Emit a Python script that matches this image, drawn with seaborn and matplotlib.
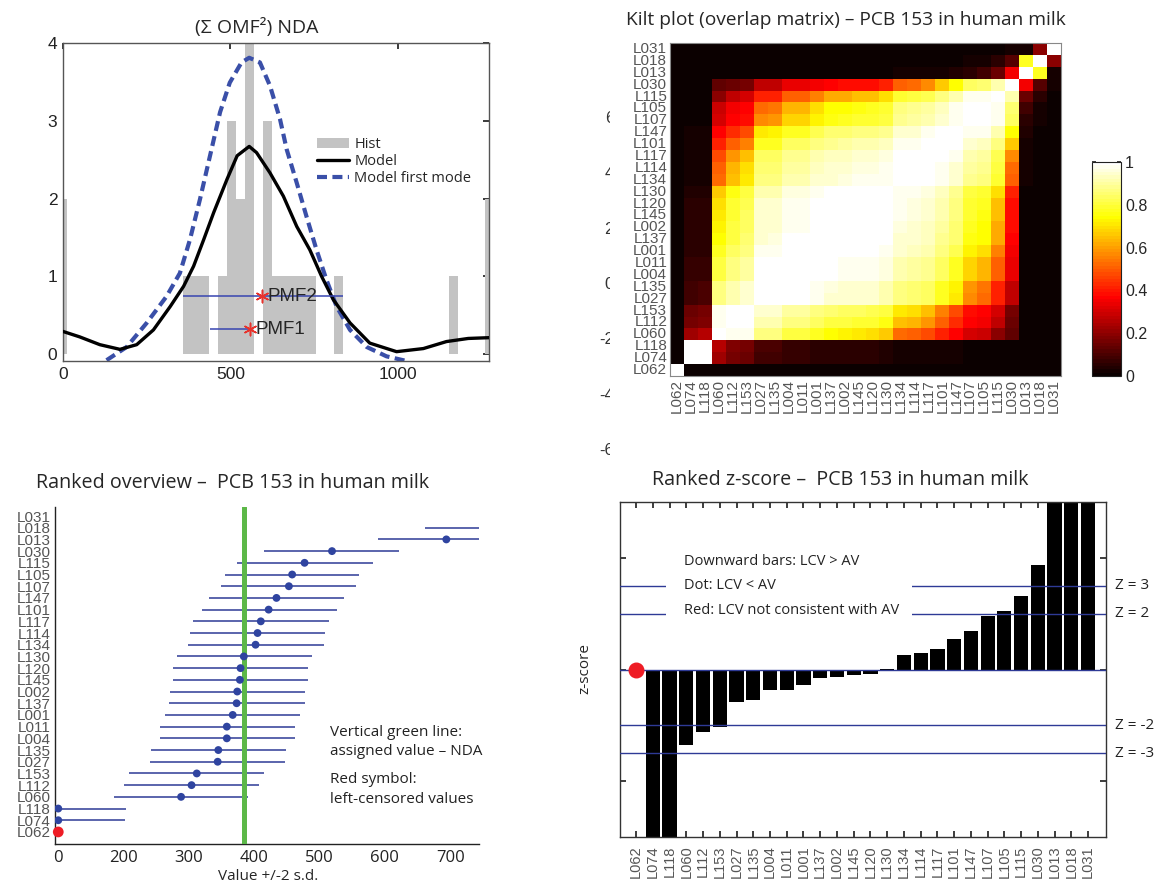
import numpy as np
import pandas as pd
import matplotlib
matplotlib.use("Agg")
import matplotlib.pyplot as plt
import matplotlib.transforms as mtransforms
from matplotlib.patches import Patch, Rectangle
from matplotlib.lines import Line2D
import seaborn as sns

# laboratories in rank order (lowest result first)
labs = ["L062", "L074", "L118", "L060", "L112", "L153", "L027", "L135", "L004",
        "L011", "L001", "L137", "L002", "L145", "L120", "L130", "L134", "L114",
        "L117", "L101", "L147", "L107", "L105", "L115", "L030", "L013", "L018", "L031"]
censored_labs = ["L062"]

# --- (Σ OMF²) NDA : histogram of results and model densities ---
hist_centers = [0, 371, 397.5, 424, 477, 503.5, 530, 556.5, 609.5, 636, 662.5,
                689, 715.5, 742, 821.5, 1166, 1272]
hist_counts = [2, 1, 1, 1, 1, 3, 2, 4, 3, 1, 1, 1, 1, 1, 1, 1, 2]
hist_bin = 26.5
model_x = [0, 50, 110, 170, 220, 270, 320, 360, 390, 420, 450, 490, 520, 556,
           578, 618, 658, 698, 737, 772, 807, 857, 916, 996, 1076, 1145, 1210, 1272]
model_y = [0.29, 0.22, 0.12, 0.06, 0.12, 0.31, 0.61, 0.87, 1.13, 1.47, 1.82, 2.25,
           2.55, 2.67, 2.59, 2.33, 2.03, 1.64, 1.34, 1.00, 0.70, 0.40, 0.14, 0.03,
           0.07, 0.16, 0.20, 0.21]
mode1_x = [130, 190, 250, 309, 349, 379, 409, 439, 469, 498, 533, 556, 588, 618,
           648, 668, 698, 727, 757, 787, 817, 857, 907, 966, 1026]
mode1_y = [-0.08, 0.09, 0.40, 0.74, 1.04, 1.47, 1.99, 2.55, 3.11, 3.49, 3.75, 3.81,
           3.75, 3.45, 3.02, 2.63, 2.20, 1.77, 1.34, 0.95, 0.61, 0.31, 0.09, -0.03, -0.09]
pmf_names = ["PMF1", "PMF2"]
pmf_peak = [558, 593]
pmf_lo = [439, 357]
pmf_hi = [558, 835]
pmf_level = [0.32, 0.74]

# --- ranked overview : value +/- 2 s.d. ---
lab_value = [100, 100, 100, 288, 304, 312, 344, 345, 358, 358, 367, 373, 374, 378,
             379, 384, 402, 405, 410, 422, 434, 453, 458, 477, 519, 694, 765, 900]
lab_lo = [np.nan, -3, -3, 185, 201, 209, 241, 242, 255, 255, 263, 270, 271, 275,
          276, 281, 299, 302, 306, 320, 331, 349, 355, 374, 415, 589, 662, 797]
lab_hi = [np.nan, 202, 203, 391, 407, 415, 447, 449, 462, 462, 470, 477, 478, 482,
          483, 488, 506, 509, 515, 527, 537, 556, 561, 581, 622, 800, 868, 1003]
assigned_value = 384
overview_ticks = [100, 200, 300, 400, 500, 600, 700]
overview_ticklabels = ["0", "200", "300", "400", "500", "600", "700"]

# --- ranked z-score ---
z_scores = [np.nan, -10.7, -10.7, -2.71, -2.25, -2.06, -1.15, -1.08, -0.75, -0.75,
            -0.54, -0.32, -0.28, -0.20, -0.17, 0.02, 0.51, 0.59, 0.74, 1.10, 1.38,
            1.92, 2.08, 2.62, 3.76, 8.6, 10.7, 12.0]
z_limits = [3, 2, -2, -3]

# --- kilt plot : overlap matrix (rows/cols in rank order) ---
overlap = [
    [1, 0, 0, 0, 0, 0, 0, 0, 0, 0, 0, 0, 0, 0, 0, 0, 0, 0, 0, 0, 0, 0, 0, 0, 0, 0, 0, 0],
    [0, 1, 1, .22, .16, .15, .09, .09, .07, .07, .06, .05, .05, .05, .05, .04, .03, .03, .03, .02, .02, .01, .01, .01, 0, 0, 0, 0],
    [0, 1, 1, .25, .18, .17, .10, .10, .07, .07, .06, .05, .05, .05, .05, .04, .03, .03, .03, .02, .02, .01, .01, .01, 0, 0, 0, 0],
    [0, .22, .25, 1.00, .98, .97, .87, .86, .81, .81, .77, .74, .73, .71, .70, .67, .53, .51, .48, .41, .37, .31, .29, .19, .13, 0, 0, 0],
    [0, .16, .18, .98, 1.00, .99, .92, .92, .87, .87, .84, .81, .81, .79, .79, .76, .65, .63, .59, .50, .43, .36, .35, .28, .15, 0, 0, 0],
    [0, .15, .17, .97, .99, 1.00, .94, .94, .90, .90, .87, .85, .84, .83, .82, .80, .71, .69, .65, .56, .48, .39, .37, .31, .16, 0, 0, 0],
    [0, .09, .10, .87, .92, .94, 1.00, 1.00, .99, .99, .97, .95, .95, .94, .94, .92, .86, .85, .83, .77, .71, .57, .53, .42, .27, 0, 0, 0],
    [0, .09, .10, .86, .92, .94, 1.00, 1.00, .99, .99, .97, .96, .95, .94, .94, .92, .86, .85, .83, .78, .72, .58, .54, .42, .27, 0, 0, 0],
    [0, .07, .07, .81, .87, .90, .99, .99, 1.00, 1.00, .99, .99, .98, .98, .98, .96, .91, .90, .88, .83, .78, .68, .64, .50, .33, 0, 0, 0],
    [0, .07, .07, .81, .87, .90, .99, .99, 1.00, 1.00, .99, .99, .98, .98, .98, .96, .91, .90, .88, .83, .78, .68, .64, .50, .33, 0, 0, 0],
    [0, .06, .06, .77, .84, .87, .97, .97, .99, .99, 1.00, 1.00, .99, .99, .99, .98, .94, .93, .91, .87, .82, .73, .70, .56, .35, 0, 0, 0],
    [0, .05, .05, .74, .81, .85, .95, .96, .99, .99, 1.00, 1.00, 1.00, 1.00, 1.00, .99, .95, .94, .93, .89, .85, .76, .74, .61, .37, 0, 0, 0],
    [0, .05, .05, .73, .81, .84, .95, .95, .98, .98, .99, 1.00, 1.00, 1.00, 1.00, .99, .96, .95, .93, .90, .85, .77, .74, .62, .38, .01, 0, 0],
    [0, .05, .05, .71, .79, .83, .94, .94, .98, .98, .99, 1.00, 1.00, 1.00, 1.00, 1.00, .97, .96, .94, .91, .87, .79, .76, .65, .39, .01, 0, 0],
    [0, .05, .05, .70, .79, .82, .94, .94, .98, .98, .99, 1.00, 1.00, 1.00, 1.00, 1.00, .97, .96, .95, .91, .87, .79, .77, .65, .39, .01, 0, 0],
    [0, .04, .04, .67, .76, .80, .92, .92, .96, .96, .98, .99, .99, 1.00, 1.00, 1.00, .98, .98, .96, .93, .89, .81, .79, .69, .41, .01, 0, 0],
    [0, .03, .03, .53, .65, .71, .86, .86, .91, .91, .94, .95, .96, .97, .97, .98, 1.00, 1.00, .99, .98, .94, .89, .87, .79, .51, .02, 0, 0],
    [0, .03, .03, .51, .63, .69, .85, .85, .90, .90, .93, .94, .95, .96, .96, .98, 1.00, 1.00, 1.00, .98, .95, .90, .88, .80, .53, .02, 0, 0],
    [0, .03, .03, .48, .59, .65, .83, .83, .88, .88, .91, .93, .93, .94, .95, .96, .99, 1.00, 1.00, .99, .97, .91, .90, .82, .57, .03, 0, 0],
    [0, .02, .02, .41, .50, .56, .77, .78, .83, .83, .87, .89, .90, .91, .91, .93, .98, .98, .99, 1.00, .99, .95, .93, .87, .66, .03, 0, 0],
    [0, .02, .02, .37, .43, .48, .71, .72, .78, .78, .82, .85, .85, .87, .87, .89, .94, .95, .97, .99, 1.00, .98, .97, .91, .74, .04, .01, 0],
    [0, .01, .01, .31, .36, .39, .57, .58, .68, .68, .73, .76, .77, .79, .79, .81, .89, .90, .91, .95, .98, 1.00, 1.00, .97, .83, .06, .02, 0],
    [0, .01, .01, .29, .35, .37, .53, .54, .64, .64, .70, .74, .74, .76, .77, .79, .87, .88, .90, .93, .97, 1.00, 1.00, .98, .85, .08, .03, 0],
    [0, .01, .01, .19, .28, .31, .42, .42, .50, .50, .56, .61, .62, .65, .65, .69, .79, .80, .82, .87, .91, .97, .98, 1.00, .91, .15, .05, 0],
    [0, 0, 0, .13, .15, .16, .27, .27, .33, .33, .35, .37, .38, .39, .39, .41, .51, .53, .57, .66, .74, .83, .85, .91, 1.00, .35, .12, .02],
    [0, 0, 0, 0, 0, 0, 0, 0, 0, 0, 0, 0, .01, .01, .01, .01, .02, .02, .03, .03, .04, .06, .08, .15, .35, 1.00, .78, .02],
    [0, 0, 0, 0, 0, 0, 0, 0, 0, 0, 0, 0, 0, 0, 0, 0, 0, 0, 0, 0, .01, .02, .03, .05, .12, .78, 1.00, .20],
    [0, 0, 0, 0, 0, 0, 0, 0, 0, 0, 0, 0, 0, 0, 0, 0, 0, 0, 0, 0, 0, 0, 0, 0, .02, .02, .20, 1.00],
]
colorbar_ticks = [0, 0.2, 0.4, 0.6, 0.8, 1]
stray_ticks = [6, 4, 2, 0, -2, -4, -6]

sns.set_theme(style="white")
plt.rcParams["font.family"] = ["Open Sans", "DejaVu Sans"]
ARIAL = ["Liberation Sans", "DejaVu Sans"]
LABFONT = ["Liberation Sans", "DejaVu Sans"]
LAB_GREY = "#555555"
NAVY = "#2e3a96"

W, H = 1154, 886
fig = plt.figure(figsize=(W / 100, H / 100), dpi=100)


def px_box(left, top, right, bottom):
    return [left / W, 1 - bottom / H, (right - left) / W, (bottom - top) / H]


def fig_text(x, y, s, **kw):
    fig.text(x / W, 1 - y / H, s, ha="center", va="center", **kw)


# ---------------- top left: NDA ----------------
ax1 = fig.add_axes(px_box(63, 43, 489, 361))
ax1.bar(hist_centers, hist_counts, width=hist_bin, color="#c3c3c3", linewidth=0, zorder=1)
sns.lineplot(x=model_x, y=model_y, ax=ax1, color="black", lw=2.4, sort=False,
             estimator=None, zorder=3)
sns.lineplot(x=mode1_x, y=mode1_y, ax=ax1, color="#3a4fa8", lw=3.0, sort=False,
             estimator=None, zorder=2, linestyle=(0, (2.4, 1.3)))
ax1.hlines(pmf_level, pmf_lo, pmf_hi, color="#3845b0", lw=1.1, zorder=4)
ax1.scatter(pmf_peak, pmf_level, marker=(6, 2, 0), s=80, color="#e8332c",
            linewidths=1.1, zorder=5)
for name, px_, py_ in zip(pmf_names, pmf_peak, pmf_level):
    ax1.annotate(name, (px_, py_), xytext=(4, 0), textcoords="offset points",
                 va="center", ha="left", fontsize=13.5, family=ARIAL, zorder=6)
ax1.set_xlim(0, 1272)
ax1.set_ylim(-0.09, 4)
ax1.set_xticks([0, 500, 1000])
ax1.set_yticks([0, 1, 2, 3, 4])
ax1.tick_params(direction="in", top=True, right=True, length=4, labelsize=12.5,
                colors="#222222", pad=4)
for lab in ax1.get_xticklabels() + ax1.get_yticklabels():
    lab.set_family(ARIAL)
for s in ax1.spines.values():
    s.set_color("#555555")
    s.set_linewidth(1.0)
handles = [Patch(facecolor="#c3c3c3", edgecolor="none"),
           Line2D([], [], color="black", lw=2.4),
           Line2D([], [], color="#3a4fa8", lw=3.0, linestyle=(0, (2.4, 1.3)))]
ax1.legend(handles, ["Hist", "Model", "Model first mode"], loc="upper left",
           bbox_to_anchor=((317 - 63) / 426, (361 - 137) / 318), frameon=False,
           borderaxespad=0, borderpad=0, handlelength=2.2, handletextpad=0.35,
           labelspacing=0.15, prop={"family": "Open Sans", "size": 10.5})
fig_text(257, 27, "(Σ OMF²) NDA", fontsize=14)

# ---------------- top right: kilt plot ----------------
ax2 = fig.add_axes(px_box(670, 43, 1061, 376))
axc = fig.add_axes(px_box(1092, 162, 1121, 376))
kilt = pd.DataFrame(overlap, index=labs, columns=labs).iloc[::-1]
hot64 = matplotlib.colormaps["hot"].resampled(64)
sns.heatmap(kilt, ax=ax2, cbar_ax=axc, cmap=hot64, vmin=0, vmax=1,
            xticklabels=True, yticklabels=True,
            cbar_kws={"ticks": colorbar_ticks})
ax2.tick_params(length=0, pad=2)
ax2.set_xticklabels(kilt.columns, rotation=90, fontsize=11, color=LAB_GREY, family=LABFONT)
ax2.set_yticklabels(kilt.index, rotation=0, fontsize=11, color=LAB_GREY, family=LABFONT)
ax2.set_xlabel("")
ax2.set_ylabel("")
for s in ax2.spines.values():
    s.set_visible(True)
    s.set_color("#888888")
    s.set_linewidth(0.8)
cb = ax2.collections[0].colorbar
cb.outline.set_edgecolor("#222222")
cb.outline.set_linewidth(0.8)
axc.set_yticklabels(["0", "0.2", "0.4", "0.6", "0.8", "1"])
axc.tick_params(direction="in", left=True, right=True, length=3, labelsize=11.5, pad=3)
for lab in axc.get_yticklabels():
    lab.set_family(ARIAL)
fig_text(846, 20, "Kilt plot (overlap matrix) – PCB 153 in human milk", fontsize=13.8)

# stray axis numbers left of the kilt plot, clipped as in the original
axg = fig.add_axes(px_box(560, 91, 609.5, 478))
axg.set_ylim(-7, 7)
axg.set_xlim(0, 1)
axg.axis("off")
for t in stray_ticks:
    axg.text(1.09, t, str(t), ha="right", va="center", fontsize=12, family=ARIAL,
             color="#333333", clip_on=True)

# ---------------- bottom left: ranked overview ----------------
ax3 = fig.add_axes(px_box(55, 507, 479, 844))
pos = np.arange(len(labs))
ax3.hlines(pos, lab_lo, lab_hi, color=NAVY, lw=1.1, zorder=2)
ax3.axvline(assigned_value, color="#5cb848", lw=3.6, zorder=3)
ok = [lab not in censored_labs for lab in labs]
sns.scatterplot(x=np.array(lab_value)[ok], y=pos[ok], ax=ax3, color="#2f44a0", s=32,
                edgecolor="none", zorder=4)
cens = [not o for o in ok]
sns.scatterplot(x=np.array(lab_value)[cens], y=pos[cens], ax=ax3, color="#ee1c25",
                s=60, edgecolor="none", zorder=5, clip_on=False)
ax3.set_xlim(95, 744)
ax3.set_ylim(-1.03, 27.77)
ax3.set_yticks(pos)
ax3.set_yticklabels(labs, fontsize=11, color=LAB_GREY, family=LABFONT)
ax3.set_xticks(overview_ticks)
ax3.set_xticklabels(overview_ticklabels, fontsize=12)
ax3.tick_params(axis="y", direction="in", length=5, pad=3, colors="#333333")
ax3.tick_params(axis="y", labelcolor=LAB_GREY)
ax3.tick_params(axis="x", direction="in", length=3, pad=4, labelcolor="#222222")
sns.despine(ax=ax3)
for s in ["left", "bottom"]:
    ax3.spines[s].set_color("#222222")
    ax3.spines[s].set_linewidth(1.0)
ax3.set_xlabel("Value +/-2 s.d.", fontsize=11)
ax3.xaxis.set_label_coords(0.502, -0.075)
note_kw = dict(transform=ax3.transAxes, ha="left", va="center", fontsize=11, color="#222222")
ax3.text(0.649, 0.332, "Vertical green line:", **note_kw)
ax3.text(0.649, 0.273, "assigned value – NDA", **note_kw)
ax3.text(0.649, 0.190, "Red symbol:", **note_kw)
ax3.text(0.649, 0.131, "left-censored values", **note_kw)
fig_text(233, 483, "Ranked overview –  PCB 153 in human milk", fontsize=14.2)

# ---------------- bottom right: ranked z-score ----------------
ax4 = fig.add_axes(px_box(620, 502, 1106, 837))
sns.barplot(x=labs, y=z_scores, order=labs, ax=ax4, color="black", saturation=1,
            width=0.85, errorbar=None, linewidth=0)
ax4.axhline(0, color=NAVY, lw=1.0, zorder=3)
for z in z_limits:
    ax4.axhline(z, color=NAVY, lw=1.0, zorder=3)
blend = mtransforms.blended_transform_factory(ax4.transAxes, ax4.transData)
ax4.add_patch(Rectangle((0.095, 1.6), 0.505, 2.9, transform=blend, facecolor="white",
                        edgecolor="none", zorder=4))
box_kw = dict(transform=blend, ha="left", va="center", fontsize=10.5, color="#222222", zorder=5)
ax4.text(0.132, 3.86, "Downward bars: LCV > AV", **box_kw)
ax4.text(0.132, 3.02, "Dot: LCV < AV", **box_kw)
ax4.text(0.132, 2.13, "Red: LCV not consistent with AV", **box_kw)
for z in z_limits:
    ax4.text(1.018, z, f"Z = {z}", transform=blend, ha="left", va="center",
             fontsize=11, color="#222222")
cens_pos = [labs.index(lab) for lab in censored_labs]
ax4.scatter(cens_pos, [0] * len(cens_pos), s=110, color="#ee1c25", zorder=6, clip_on=False)
ax4.set_xlim(-0.96, 28.07)
ax4.set_ylim(-6, 6)
ax4.set_yticks([-4, 0, 4])
ax4.set_xticks(range(len(labs)))
ax4.set_xticklabels(labs, rotation=90, fontsize=10.5, color=LAB_GREY, family=LABFONT)
ax4.tick_params(axis="x", direction="in", top=True, bottom=True, length=4, pad=6)
ax4.tick_params(axis="y", direction="in", left=True, right=True, length=4, labelleft=False)
ax4.set_xlabel("")
ax4.set_ylabel("z-score", fontsize=11)
ax4.yaxis.set_label_coords(-0.056, 0.504)
for s in ax4.spines.values():
    s.set_visible(True)
    s.set_color("#333333")
    s.set_linewidth(1.0)
fig_text(840, 480, "Ranked z-score –  PCB 153 in human milk", fontsize=14.2)

fig.savefig("out.png", dpi=100)
